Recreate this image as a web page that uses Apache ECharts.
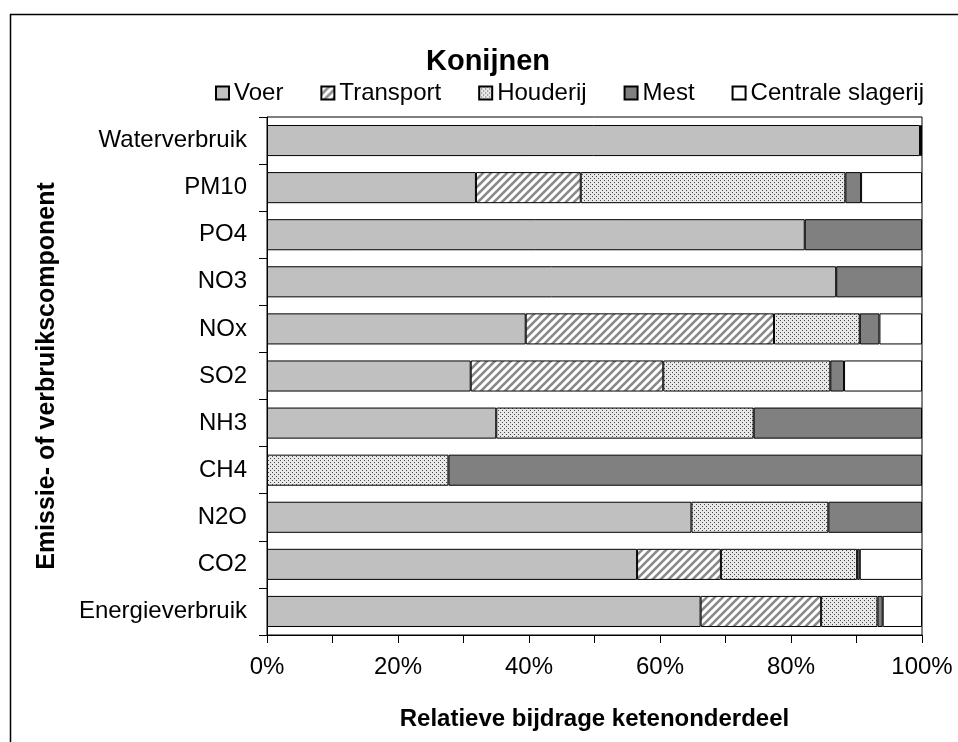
<!DOCTYPE html>
<html>
<head>
<meta charset="utf-8">
<script src="https://cdn.jsdelivr.net/npm/echarts@6/dist/echarts.min.js"></script>
<style>
  html, body { margin: 0; padding: 0; background: #fff; }
  #chart { width: 958px; height: 742px; }
</style>
</head>
<body>
<div id="chart"></div>
<script>
// categories top to bottom (yAxis is inverted)
const categories = ['Waterverbruik', 'PM10', 'PO4', 'NO3', 'NOx', 'SO2', 'NH3', 'CH4', 'N2O', 'CO2', 'Energieverbruik'];

// percentages per chain part
const voer      = [99.7, 31.9, 82.1, 86.9, 39.5, 31.1, 35.0, null, 64.8, 56.5, 66.2];
const transport = [null, 16.0, null, null, 37.9, 29.4, null, null, null, 12.8, 18.4];
const houderij  = [null, 40.4, null, null, 13.1, 25.5, 39.3, 27.7, 20.9, 20.8, 8.6];
const mest      = [0.3, 2.4, 17.9, 13.1, 3.0, 2.1, 25.7, 72.3, 14.3, 0.4, 0.8];
const centrale  = [null, 9.3, null, null, 6.5, 11.9, null, null, null, 9.5, 6.0];

const seriesNames = ['Voer', 'Transport', 'Houderij', 'Mest', 'Centrale slagerij'];
const xTicks = [0, 20, 40, 60, 80, 100];

// hatch fill for transport
function hatchPattern() {
  const c = document.createElement('canvas');
  c.width = 8; c.height = 8;
  const ctx = c.getContext('2d');
  ctx.fillStyle = '#fff';
  ctx.fillRect(0, 0, 8, 8);
  ctx.strokeStyle = '#888';
  ctx.lineWidth = 2.6;
  [0, 8, 16].forEach(function (k) {
    ctx.beginPath();
    ctx.moveTo(k - 10, 10);
    ctx.lineTo(k + 10, -10);
    ctx.stroke();
  });
  return { image: c, repeat: 'repeat' };
}

// stipple fill for houderij
function dotPattern() {
  const c = document.createElement('canvas');
  c.width = 4; c.height = 4;
  const ctx = c.getContext('2d');
  ctx.fillStyle = '#e8e8e8';
  ctx.fillRect(0, 0, 4, 4);
  ctx.fillStyle = '#4a4a4a';
  ctx.fillRect(0, 0, 1, 1);
  ctx.fillRect(2, 2, 1, 1);
  return { image: c, repeat: 'repeat' };
}

const fills = ['#c0c0c0', hatchPattern(), dotPattern(), '#808080', '#ffffff'];
const values = [voer, transport, houderij, mest, centrale];

const chart = echarts.init(document.getElementById('chart'));

chart.setOption({
  animation: false,
  textStyle: { fontFamily: 'Liberation Sans, Arial, sans-serif', color: '#000' },
  title: {
    text: 'Konijnen',
    left: 426,
    top: 47,
    padding: 0,
    textStyle: { fontSize: 29, fontWeight: 'bold', color: '#000', fontFamily: 'Liberation Sans, Arial, sans-serif' }
  },
  legend: {
    data: seriesNames,
    left: 215,
    top: 81,
    padding: 0,
    itemWidth: 13,
    itemHeight: 13,
    itemGap: 37,
    icon: 'rect',
    textStyle: { fontSize: 24, color: '#000' }
  },
  graphic: [{
    type: 'rect',
    shape: { x: 10.5, y: 14.5, width: 1000, height: 800 },
    style: { fill: 'none', stroke: '#000', lineWidth: 1.5 },
    silent: true
  }],
  grid: {
    left: 267,
    right: 36,
    top: 117,
    bottom: 107,
    show: true,
    borderColor: '#000',
    borderWidth: 1
  },
  xAxis: {
    type: 'value',
    min: 0,
    max: 100,
    interval: 10,
    name: 'Relatieve bijdrage ketenonderdeel',
    nameLocation: 'middle',
    nameGap: 72,
    nameTextStyle: { fontSize: 24, fontWeight: 'bold', color: '#000' },
    axisLine: { show: true, lineStyle: { color: '#000', width: 1 } },
    axisTick: { show: true, length: 8, lineStyle: { color: '#000' } },
    axisLabel: {
      fontSize: 24,
      color: '#000',
      margin: 20,
      formatter: function (v) { return xTicks.indexOf(v) >= 0 ? v + '%' : ''; }
    },
    splitLine: { show: false }
  },
  yAxis: {
    type: 'category',
    inverse: true,
    data: categories,
    name: 'Emissie- of verbruikscomponent',
    nameLocation: 'middle',
    nameGap: 207,
    nameTextStyle: { fontSize: 25, fontWeight: 'bold', color: '#000' },
    axisLine: { show: true, lineStyle: { color: '#000', width: 1 } },
    axisTick: { show: true, length: 8, lineStyle: { color: '#000' } },
    axisLabel: { fontSize: 24, color: '#000', margin: 20 }
  },
  series: seriesNames.map(function (name, i) {
    return {
      name: name,
      type: 'bar',
      stack: 'total',
      barCategoryGap: '34%',
      data: values[i],
      itemStyle: { color: fills[i], borderColor: '#000', borderWidth: 1 },
      emphasis: { disabled: true }
    };
  })
});
</script>
</body>
</html>
